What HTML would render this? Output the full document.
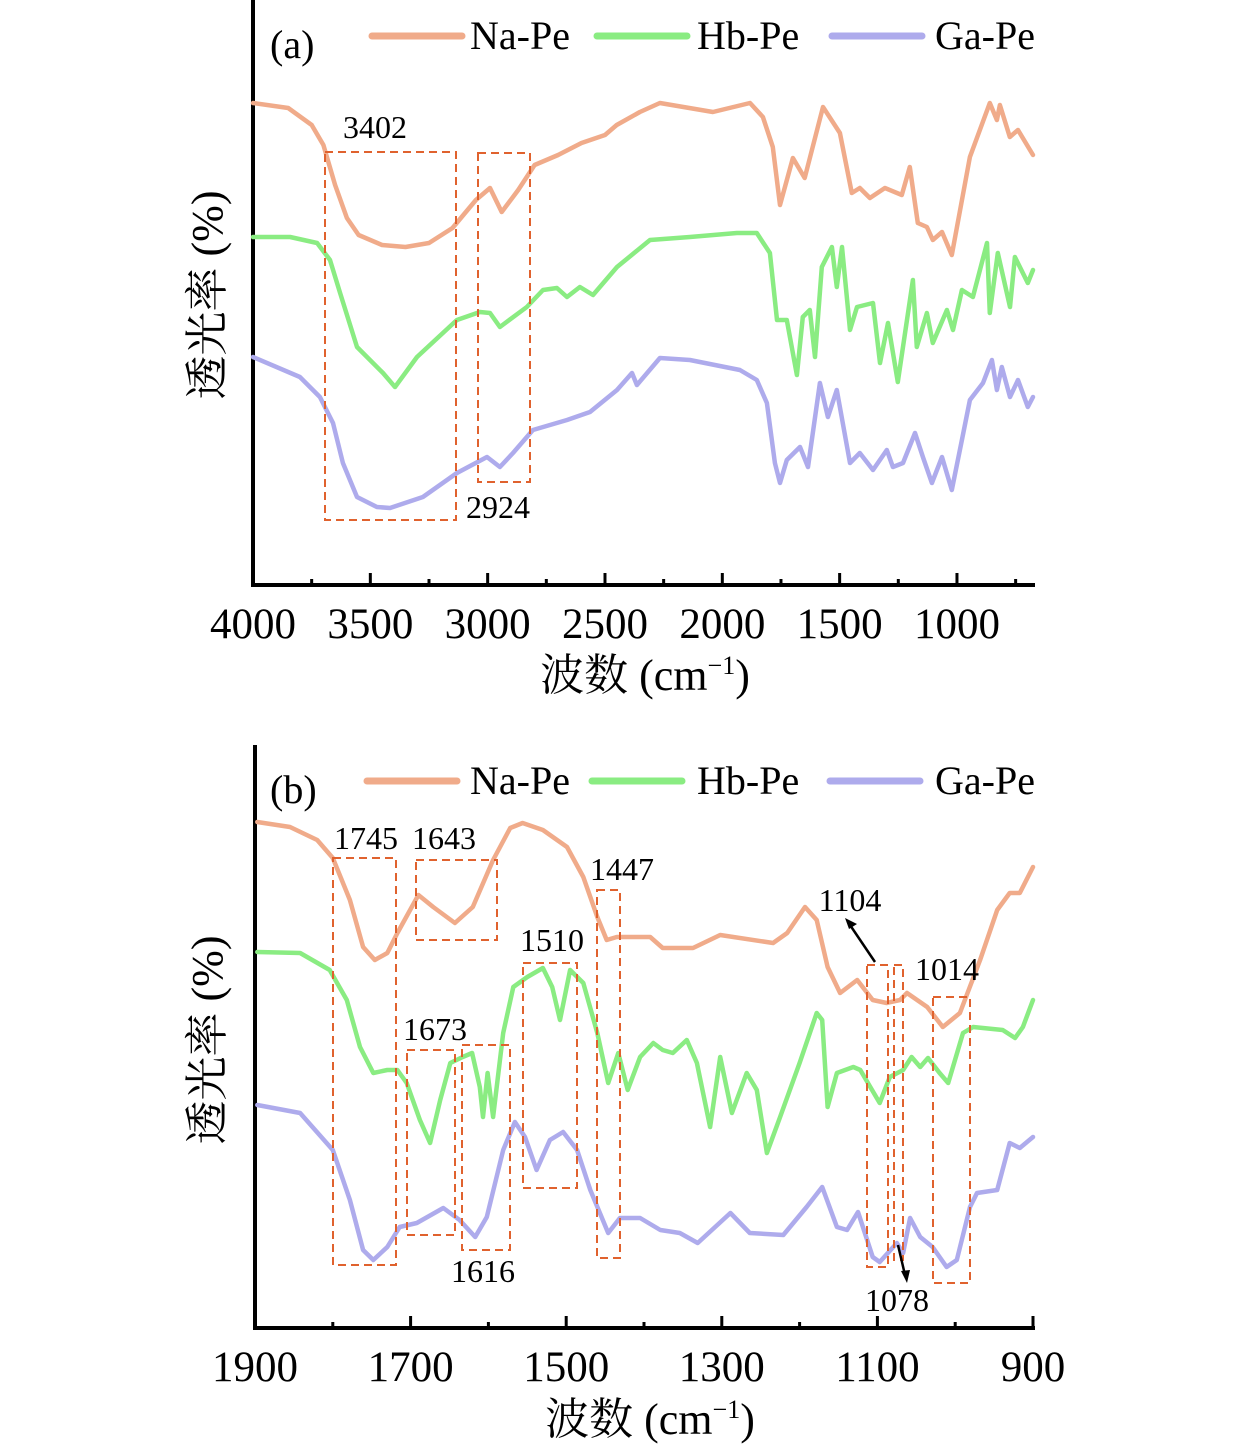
<!DOCTYPE html>
<html><head><meta charset="utf-8"><style>
html,body{margin:0;padding:0;background:#fff;}
svg{display:block;font-family:"Liberation Serif","Noto Serif CJK SC",serif;}
</style></head><body>
<svg id="chart" width="1260" height="1447" viewBox="0 0 1260 1447" xmlns="http://www.w3.org/2000/svg"></svg>
<script>
// ---------- Panel (a) data ----------
const aTicks = [4000, 3500, 3000, 2500, 2000, 1500, 1000];
const aNaWn = [4000,3850,3750,3700,3650,3600,3550,3450,3350,3250,3150,3050,2990,2940,2870,2800,2700,2600,2500,2450,2351,2266,2040,1882,1827,1785,1754,1699,1649,1571,1499,1448,1414,1371,1307,1235,1201,1167,1128,1103,1064,1022,945,860,830,817,775,740,676];
const aNaVal = [497,492,475,455,415,382,365,355,353,357,372,400,412,388,410,435,445,457,465,475,488,497,488,497,483,453,395,442,422,493,467,407,412,402,412,405,433,377,373,360,368,345,443,497,480,495,463,470,445];
const aHbWn = [4000,3842,3727,3672,3629,3557,3446,3395,3301,3131,3033,2990,2948,2833,2764,2705,2662,2607,2551,2449,2308,2138,1938,1853,1797,1767,1725,1682,1657,1627,1605,1576,1533,1512,1490,1456,1426,1358,1328,1294,1252,1188,1171,1128,1103,1043,1017,979,932,872,860,826,774,753,698,676];
const aHbVal = [363,363,357,340,307,253,227,213,243,280,288,287,273,293,310,312,303,313,305,333,360,363,367,367,347,280,280,225,283,290,243,333,353,313,353,270,293,297,237,277,218,320,253,287,257,290,270,310,303,357,287,347,293,343,317,330];
const aGaWn = [4000,3800,3715,3659,3617,3557,3472,3416,3276,3131,3003,2948,2892,2807,2662,2564,2449,2385,2364,2266,2138,1925,1853,1810,1776,1754,1725,1669,1635,1584,1550,1512,1456,1414,1358,1299,1273,1230,1179,1145,1107,1064,1022,979,945,889,851,830,809,774,740,698,676];
const aGaVal = [243,223,203,177,137,103,93,92,103,127,143,133,147,170,180,188,210,227,215,242,240,230,220,197,137,117,140,153,133,217,183,210,137,147,130,150,133,137,167,143,117,143,110,160,200,217,240,210,233,203,220,193,203];
const aPeakLabels = ["3402","2924"];

// ---------- Panel (b) data ----------
const bTicks = [1900, 1700, 1500, 1300, 1100, 900];
const bNaWn = [1897,1855,1820,1800,1778,1761,1746,1730,1717,1690,1671,1643,1620,1594,1572,1556,1530,1499,1478,1460,1448,1435,1392,1376,1337,1302,1234,1216,1193,1178,1164,1148,1126,1106,1088,1071,1062,1036,1016,994,968,946,930,917,900];
const bNaVal = [518,513,500,482,440,393,380,387,407,445,433,417,433,480,512,517,510,493,463,423,400,403,403,392,392,405,397,407,433,420,373,347,360,340,337,340,347,333,313,327,380,430,447,447,473];
const bHbWn = [1897,1842,1804,1782,1765,1748,1730,1717,1705,1688,1675,1662,1649,1633,1621,1611,1607,1601,1594,1581,1568,1550,1530,1518,1508,1495,1478,1460,1446,1433,1421,1405,1388,1376,1363,1345,1332,1315,1302,1287,1268,1255,1242,1225,1200,1178,1171,1164,1152,1131,1122,1097,1084,1067,1056,1045,1035,1020,1009,990,977,939,923,913,900];
const bHbVal = [388,387,370,340,293,267,270,270,257,220,197,240,277,283,287,253,223,267,223,307,353,363,372,353,320,370,357,307,257,287,250,283,297,290,287,300,277,213,283,227,267,250,187,223,277,327,320,233,267,273,270,237,263,270,283,273,282,267,257,307,313,310,302,313,340];
const bGaWn = [1897,1842,1800,1778,1761,1748,1730,1714,1692,1658,1637,1617,1602,1581,1566,1553,1538,1521,1504,1486,1469,1446,1431,1405,1379,1354,1331,1289,1264,1221,1191,1171,1152,1139,1125,1106,1097,1075,1067,1058,1045,1029,1011,998,981,972,946,930,917,900];
const bGaVal = [235,227,190,140,90,80,93,113,117,132,120,103,123,190,218,203,170,200,208,190,150,107,122,122,110,107,97,127,107,105,133,153,113,110,128,83,78,97,87,122,103,93,73,80,133,147,150,197,192,203];

const NS = "http://www.w3.org/2000/svg";
const svg = document.getElementById("chart");
const C = {na:"#f0ab8a", hb:"#8aec82", ga:"#aeabec", box:"#e0622e"};

function el(tag, attrs, parent) {
  const e = document.createElementNS(NS, tag);
  for (const k in attrs) e.setAttribute(k, attrs[k]);
  (parent || svg).appendChild(e);
  return e;
}
function linScale(d0, d1, r0, r1) { return v => r0 + (v - d0) * (r1 - r0) / (d1 - d0); }

const axA = { x: linScale(4000, 676, 253, 1033), y: linScale(0, 600, 600, 0) };
const axB = { x: linScale(1900, 900, 255, 1033), y: linScale(0, 1340, 1340, 0) };

function series(ax, wn, val, color, name) {
  let d = "";
  for (let i = 0; i < wn.length; i++) d += (i ? "L" : "M") + ax.x(wn[i]).toFixed(1) + "," + ax.y(val[i]).toFixed(1);
  const p = el("path", {d: d, fill: "none", stroke: color, "stroke-width": 4.5, "stroke-linejoin": "round", "stroke-linecap": "round"});
  
  
}
function text(x, y, s, size, name, anchor) {
  const t = el("text", {x: x, y: y, "font-size": size, fill: "#000", "text-anchor": anchor || "middle"});
  t.textContent = s;
  
  
  return t;
}
function xtitle(x, y, name) {
  const t = el("text", {x: x, y: y, "font-size": 44, fill: "#000", "text-anchor": "middle"});
  
  
  t.appendChild(document.createTextNode("波数 (cm"));
  const s = el("tspan", {"font-size": 26, dy: -16}, t);
  s.textContent = "−1";
  const e = el("tspan", {"font-size": 44, dy: 16}, t);
  e.textContent = ")";
}
function box(x0, y0, x1, y1, name) {
  const r = el("rect", {x: x0, y: y0, width: x1 - x0, height: y1 - y0, fill: "none", stroke: C.box, "stroke-width": 2, "stroke-dasharray": "8,5"});
  
  
}
function legend(y, items) {
  items.forEach(it => {
    const l = el("line", {x1: it[0], y1: y, x2: it[0] + 90, y2: y, stroke: it[2], "stroke-width": 7, "stroke-linecap": "round"});
    
    
    text(it[1], y + 13, it[4], 40, 'legend-entry-' + it[3], "start");
  });
}
function axes(ax, x0, x1, yTop, yBot, ticks, minorStep, tickY, name) {
  const g = el("g", {});
  
  
  el("line", {x1: x0, y1: yTop, x2: x0, y2: yBot + 1.5, stroke: "#000", "stroke-width": 4}, g);
  el("line", {x1: x0 - 2, y1: yBot, x2: x1, y2: yBot, stroke: "#000", "stroke-width": 4}, g);
  const first = ticks[0], lastT = ticks[ticks.length - 1];
  for (let v = first; v >= lastT - minorStep * 3; v -= minorStep) {
    const px = ax.x(v);
    if (px > x1) break;
    const major = ticks.indexOf(v) >= 0;
    el("line", {x1: px, y1: yBot, x2: px, y2: yBot - (major ? 12 : 6), stroke: "#000", "stroke-width": 3}, g);
  }
  ticks.forEach(v => text(ax.x(v), tickY, String(v), 43, name + '-tick-' + v));
}

// ---------- Panel (a) ----------
axes(axA, 253, 1035, 0, 585, aTicks, 250, 638, 'x-axis-a');
series(axA, aNaWn, aNaVal, C.na, 'line-na-pe-a');
series(axA, aHbWn, aHbVal, C.hb, 'line-hb-pe-a');
series(axA, aGaWn, aGaVal, C.ga, 'line-ga-pe-a');
box(325, 152, 456, 520, 'peak-box-3402');
box(478, 153, 530, 482, 'peak-box-2924');
text(375, 138, aPeakLabels[0], 32, 'peak-label-3402');
text(498, 518, aPeakLabels[1], 32, 'peak-label-2924');
text(270, 58, "(a)", 40, 'panel-label-a', "start");
legend(36, [[372, 470, C.na, 'na-pe-a', 'Na-Pe'], [597, 697, C.hb, 'hb-pe-a', 'Hb-Pe'], [832, 935, C.ga, 'ga-pe-a', 'Ga-Pe']]);
xtitle(645, 690, 'x-axis-title-a');
const ya = text(0, 0, "透光率 (%)", 44, 'y-axis-title-a');
ya.setAttribute("transform", "translate(222,295) rotate(-90)");

// ---------- Panel (b) ----------
axes(axB, 255, 1035, 745, 1328, bTicks, 100, 1381, 'x-axis-b');
series(axB, bNaWn, bNaVal, C.na, 'line-na-pe-b');
series(axB, bHbWn, bHbVal, C.hb, 'line-hb-pe-b');
series(axB, bGaWn, bGaVal, C.ga, 'line-ga-pe-b');
box(333, 858, 396, 1265, 'peak-box-1745');
box(416, 860, 497, 940, 'peak-box-1643');
box(597, 890, 620, 1258, 'peak-box-1447');
box(523, 963, 577, 1188, 'peak-box-1510');
box(407, 1050, 455, 1235, 'peak-box-1673');
box(462, 1045, 510, 1250, 'peak-box-1616');
box(867, 965, 888, 1267, 'peak-box-1104');
box(894, 965, 903, 1260, 'peak-box-1078');
box(933, 997, 970, 1283, 'peak-box-1014');
text(366, 849, "1745", 32, 'peak-label-1745');
text(444, 849, "1643", 32, 'peak-label-1643');
text(622, 880, "1447", 32, 'peak-label-1447');
text(552, 951, "1510", 32, 'peak-label-1510');
text(435, 1040, "1673", 32, 'peak-label-1673');
text(483, 1282, "1616", 32, 'peak-label-1616');
text(850, 911, "1104", 32, 'peak-label-1104');
text(947, 980, "1014", 32, 'peak-label-1014');
text(897, 1311, "1078", 32, 'peak-label-1078');
const ar1 = el("line", {x1: 875, y1: 962, x2: 850, y2: 925, stroke: "#000", "stroke-width": 2.5});


const ah1 = el("polygon", {points: "845,918 857,924 849,929", fill: "#000"});


const ar2 = el("line", {x1: 898, y1: 1245, x2: 905, y2: 1275, stroke: "#000", "stroke-width": 2.5});


const ah2 = el("polygon", {points: "907,1283 901,1271 910,1270", fill: "#000"});


text(270, 803, "(b)", 40, 'panel-label-b', "start");
legend(781, [[367, 470, C.na, 'na-pe-b', 'Na-Pe'], [592, 697, C.hb, 'hb-pe-b', 'Hb-Pe'], [830, 935, C.ga, 'ga-pe-b', 'Ga-Pe']]);
xtitle(650, 1434, 'x-axis-title-b');
const yb = text(0, 0, "透光率 (%)", 44, 'y-axis-title-b');
yb.setAttribute("transform", "translate(222,1040) rotate(-90)");
</script>
</body></html>
